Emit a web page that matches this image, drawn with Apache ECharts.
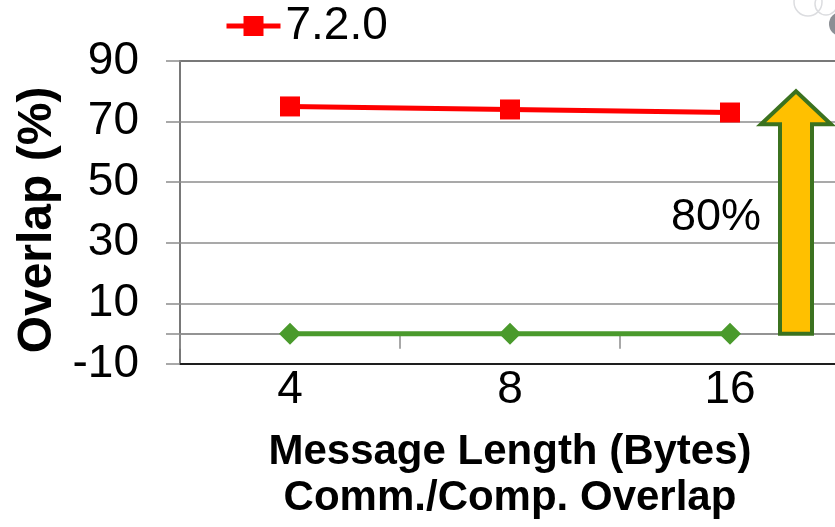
<!DOCTYPE html>
<html>
<head>
<meta charset="utf-8">
<script src="https://cdn.jsdelivr.net/npm/echarts@6/dist/echarts.min.js"></script>
<style>
  html, body { margin: 0; padding: 0; background: #fff; }
  #chart { width: 835px; height: 527px; }
</style>
</head>
<body>
<div id="chart"></div>
<script>
// Message lengths (bytes) on the category axis
const categories = ['4', '8', '16'];
// Communication/computation overlap (%) per release
const overlap720 = [75, 74, 73];
const overlapBase = [0, 0, 0];
// Value axis: labelled values and ruled values
const yLabelValues = [-10, 10, 30, 50, 70, 90];
const yRuleValues = [-10, 0, 10, 30, 50, 70, 90];
// Improvement annotation: arrow from 0 up to this value, placed right of the last category
const gainCategory = 2;
const gainValue = 80;

const FONT = "'Liberation Sans', Arial, sans-serif";
const chart = echarts.init(document.getElementById('chart'), null, { renderer: 'canvas' });

const option = {
  animation: false,
  backgroundColor: '#ffffff',
  textStyle: { fontFamily: FONT },
  grid: {
    left: 180, top: 61, right: -5, bottom: 163,
    outerBoundsMode: 'none', containLabel: false,
    show: true, borderColor: '#000000', borderWidth: 1.5, backgroundColor: 'transparent'
  },
  legend: {
    data: ['7.2.0'],
    left: 224, top: 3, padding: 0,
    itemWidth: 54, itemHeight: 25, itemGap: 5,
    lineStyle: { width: 5 },
    textStyle: { fontSize: 46, color: '#000', fontFamily: FONT }
  },
  xAxis: [
    {
      type: 'category', data: categories, boundaryGap: true,
      axisLine: { onZero: false, lineStyle: { color: '#000', width: 1.5 } },
      axisTick: { show: false },
      axisLabel: { fontSize: 46, color: '#000', margin: 3, fontFamily: FONT },
      splitLine: { show: false },
      name: 'Message Length (Bytes)\nComm./Comp. Overlap',
      nameLocation: 'middle', nameGap: 65,
      nameTextStyle: { fontSize: 42, fontWeight: 'bold', color: '#000', lineHeight: 46, fontFamily: FONT }
    },
    {
      // horizontal axis crossing at zero, carrying the between-category ticks
      type: 'category', data: categories, boundaryGap: true, position: 'bottom',
      axisLine: { onZero: true, onZeroAxisIndex: 0, lineStyle: { color: '#8c8c8c', width: 1.5 } },
      axisTick: { show: true, inside: false, length: 15, lineStyle: { color: '#8c8c8c', width: 1.5 } },
      axisLabel: { show: false },
      splitLine: { show: false }
    }
  ],
  yAxis: {
    type: 'value', min: -10, max: 90, interval: 10,
    axisLine: { show: true, lineStyle: { color: '#8c8c8c', width: 1.5 } },
    axisTick: { show: true, inside: false, length: 14, customValues: yRuleValues, lineStyle: { color: '#8c8c8c', width: 1.5 } },
    axisLabel: { fontSize: 46, color: '#000', margin: 41, customValues: yLabelValues, fontFamily: FONT },
    splitLine: { show: true, lineStyle: { color: '#8c8c8c', width: 1.5 } },
    name: 'Overlap (%)', nameLocation: 'middle', nameGap: 116,
    nameTextStyle: { fontSize: 48, fontWeight: 'bold', color: '#000', padding: [0, 15, 0, 0], fontFamily: FONT }
  },
  series: [
    {
      name: 'baseline', type: 'line', xAxisIndex: 0, data: overlapBase,
      symbol: 'diamond', symbolSize: 22,
      lineStyle: { color: '#4a9a2c', width: 5 },
      itemStyle: { color: '#4a9a2c' },
      z: 3
    },
    {
      name: '7.2.0', type: 'line', xAxisIndex: 0, data: overlap720,
      symbol: 'rect', symbolSize: 20,
      lineStyle: { color: '#ff0000', width: 5 },
      itemStyle: { color: '#ff0000' },
      z: 4
    },
    {
      // block arrow marking the overlap gain, with its percentage
      name: 'gain', type: 'custom', xAxisIndex: 0,
      data: [[gainCategory, 0, gainValue]],
      encode: { x: 0, y: [1, 2] },
      renderItem: function (params, api) {
        const band = api.size([1, 0])[0];
        const base = api.coord([api.value(0), api.value(1)]);
        const tip = api.coord([api.value(0), api.value(2)]);
        const cx = base[0] + band * 0.3;
        const shaftHalf = 16, headHalf = 35, headLen = 33;
        const y0 = base[1], y1 = tip[1], yh = y1 + headLen;
        return {
          type: 'group',
          children: [
            {
              type: 'polygon',
              shape: {
                points: [
                  [cx - shaftHalf, y0], [cx - shaftHalf, yh], [cx - headHalf, yh],
                  [cx, y1], [cx + headHalf, yh], [cx + shaftHalf, yh], [cx + shaftHalf, y0]
                ]
              },
              style: { fill: '#ffc000', stroke: '#3b721f', lineWidth: 4, lineJoin: 'miter' }
            },
            {
              type: 'text',
              style: {
                text: api.value(2) + '%',
                x: cx - 35, y: (y0 + y1) / 2 + 5,
                align: 'right', verticalAlign: 'middle',
                fontSize: 45, fill: '#000', fontFamily: FONT
              }
            }
          ]
        };
      },
      z: 5
    }
  ],
  graphic: [
    // slide ornament in the top-right corner
    { type: 'circle', shape: { cx: 808, cy: 2, r: 14 }, style: { fill: 'none', stroke: '#dcdde0', lineWidth: 1.5 } },
    { type: 'circle', shape: { cx: 826, cy: 4, r: 11 }, style: { fill: 'none', stroke: '#dcdde0', lineWidth: 1.5 } },
    { type: 'circle', shape: { cx: 841, cy: 24, r: 12 }, style: { fill: '#8b8e94' } }
  ]
};

chart.setOption(option);
</script>
</body>
</html>
